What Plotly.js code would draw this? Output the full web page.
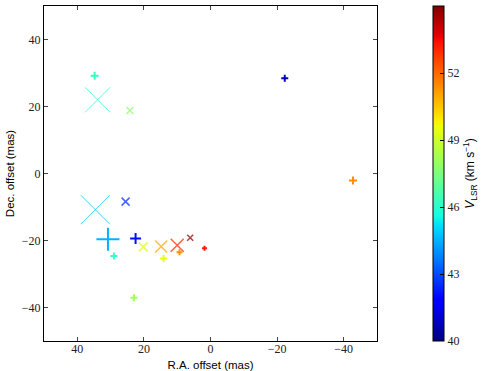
<!DOCTYPE html>
<html>
<head>
<meta charset="utf-8">
<script src="https://cdn.plot.ly/plotly-3.0.1.min.js"></script>
<style>
  html, body { margin: 0; padding: 0; background: #fff; }
  #chart { width: 485px; height: 371px; }
</style>
</head>
<body>
<div id="chart"></div>
<script>
// maser spots: R.A. / Dec. offsets (mas), V_LSR (km/s), marker kind and span
const raOff  = [34.8, 33.9, 24.2, -22.3, -42.8, 34.6, 25.5, 30.8, 22.5, 29.0, 20.2, 14.8, 14.1, 10.0, 9.3, 6.1, 1.8, 23.0];
const decOff = [29.2, 22.0, 18.8, 28.4, -2.1, -10.8, -8.4, -19.6, -19.4, -24.6, -21.9, -21.8, -25.4, -21.4, -23.5, -19.2, -22.3, -37.1];
const vlsr   = [46.2, 46.0, 47.8, 40.9, 51.4, 44.8, 42.6, 44.5, 42.1, 46.1, 49.3, 51.0, 49.5, 53.0, 51.3, 54.8, 53.2, 48.2];
const kind   = ['+', 'x', 'x', '+', '+', 'x', 'x', '+', '+', '+', 'x', 'x', '+', 'x', '+', 'x', '+', '+'];
const spanPx = [8, 25, 7, 7, 8, 29, 8, 23, 11, 7, 9, 12, 7, 13, 6, 6, 5, 7];

const xTicks = [40, 20, 0, -20, -40];
const yTicks = [-40, -20, 0, 20, 40];
const cTicks = [40, 43, 46, 49, 52];

// matplotlib "jet"
const jetSeg = {
  r: [[0, 0], [0.35, 0], [0.66, 1], [0.89, 1], [1, 0.5]],
  g: [[0, 0], [0.125, 0], [0.375, 1], [0.64, 1], [0.91, 0], [1, 0]],
  b: [[0, 0.5], [0.11, 1], [0.34, 1], [0.65, 0], [1, 0]]
};
function seg(pts, t) {
  for (let i = 1; i < pts.length; i++) {
    if (t <= pts[i][0]) {
      const f = (t - pts[i - 1][0]) / (pts[i][0] - pts[i - 1][0]);
      return pts[i - 1][1] + f * (pts[i][1] - pts[i - 1][1]);
    }
  }
  return pts[pts.length - 1][1];
}
const jet = Array.from({ length: 65 }, (_, i) => {
  const t = i / 64;
  const c = ['r', 'g', 'b'].map(k => Math.round(seg(jetSeg[k], t) * 255));
  return [t, 'rgb(' + c.join(',') + ')'];
});

const serif = { family: 'Liberation Serif', size: 12, color: '#222' };
const sans = { family: 'Liberation Sans', size: 11.5, color: '#000' };

const trace = {
  x: raOff,
  y: decOff,
  mode: 'markers',
  type: 'scatter',
  hoverinfo: 'x+y+text',
  text: vlsr.map(v => 'V = ' + v),
  marker: {
    symbol: kind.map(k => k === '+' ? 'cross-thin-open' : 'x-thin-open'),
    // cross-thin draws 1.4x its size, x-thin about 1x
    size: kind.map((k, i) => k === '+' ? spanPx[i] / 1.4 : spanPx[i]),
    opacity: kind.map(k => k === '+' ? 1 : 0.75),
    color: vlsr,
    colorscale: jet,
    cmin: 40,
    cmax: 55,
    showscale: true,
    line: {
      color: vlsr,
      colorscale: jet,
      cmin: 40,
      cmax: 55,
      width: kind.map((k, i) => k === '+' ? 2 : (spanPx[i] > 15 ? 1 : 1.5))
    },
    colorbar: {
      x: 1.167,
      xanchor: 'left',
      y: 0.5,
      len: 1,
      thickness: 11,
      outlinewidth: 1,
      outlinecolor: '#000',
      xpad: 0,
      ypad: 0,
      tickvals: cTicks,
      ticks: 'inside',
      ticklen: 4,
      tickcolor: '#000',
      tickfont: serif,
      title: {
        text: '<i>V</i><sub>LSR</sub> (km s<sup>\u22121</sup>)',
        side: 'right',
        font: { family: 'Liberation Sans', size: 12, color: '#000' }
      }
    }
  }
};

const layout = {
  width: 485,
  height: 371,
  margin: { l: 44, r: 106, t: 6, b: 30 },
  paper_bgcolor: '#fff',
  plot_bgcolor: '#fff',
  showlegend: false,
  xaxis: {
    range: [50, -50],
    tickvals: xTicks,
    ticks: 'inside',
    ticklen: 4,
    ticklabelstandoff: -3,
    mirror: 'ticks',
    showline: true,
    linecolor: '#000',
    linewidth: 1,
    showgrid: false,
    zeroline: false,
    tickfont: serif,
    title: { text: 'R.A. offset (mas)', font: sans, standoff: -2 }
  },
  yaxis: {
    range: [-50, 50],
    tickvals: yTicks,
    ticks: 'inside',
    ticklen: 4,
    mirror: 'ticks',
    showline: true,
    linecolor: '#000',
    linewidth: 1,
    showgrid: false,
    zeroline: false,
    tickfont: serif,
    title: { text: 'Dec. offset (mas)', font: sans, standoff: 4 }
  }
};

Plotly.newPlot('chart', [trace], layout, { displayModeBar: false, staticPlot: true });
</script>
</body>
</html>
